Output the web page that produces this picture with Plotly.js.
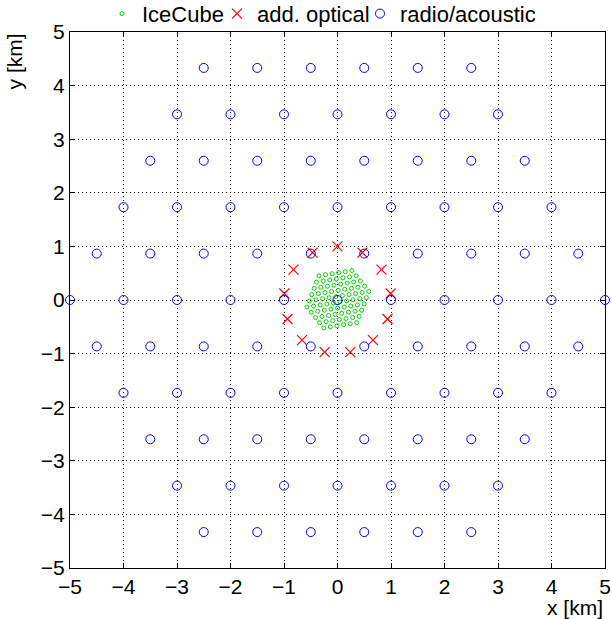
<!DOCTYPE html>
<html>
<head>
<meta charset="utf-8">
<script src="https://cdn.plot.ly/plotly-3.0.1.min.js"></script>
<style>html,body{margin:0;padding:0;background:#fff;}#chart{width:612px;height:619px;}</style>
</head>
<body>
<div id="chart"></div>
<script>
// IceCube strings (km)
var iceX = [
 -0.256,-0.133,-0.009,0.114,0.238,0.361,
 -0.335,-0.211,-0.088,0.036,0.159,0.283,0.406,
 -0.413,-0.290,-0.167,-0.043,0.080,0.204,0.327,0.451,
 -0.492,-0.369,-0.245,-0.122,0.002,0.125,0.249,0.372,0.496,
 -0.571,-0.447,-0.324,-0.200,-0.077,0.047,0.170,0.293,0.417,0.540,
 -0.526,-0.403,-0.279,-0.156,-0.032,0.091,0.215,0.338,0.462,0.585,
 -0.481,-0.358,-0.234,-0.111,0.013,0.136,0.260,0.383,0.507,
 -0.436,-0.313,-0.189,-0.066,0.057,0.181,0.304,0.428,
 -0.392,-0.268,-0.145,-0.021,0.102,0.226,0.349,
 -0.347,-0.223,-0.100,0.024,0.147,0.271
];
var iceY = [
 -0.521,-0.502,-0.482,-0.462,-0.443,-0.423,
 -0.424,-0.404,-0.385,-0.365,-0.346,-0.326,-0.307,
 -0.327,-0.307,-0.288,-0.268,-0.249,-0.229,-0.209,-0.190,
 -0.230,-0.210,-0.191,-0.171,-0.151,-0.132,-0.112,-0.093,-0.073,
 -0.132,-0.113,-0.093,-0.074,-0.054,-0.035,-0.015,0.004,0.024,0.043,
 -0.016,0.004,0.023,0.043,0.062,0.082,0.102,0.121,0.141,0.160,
 0.101,0.120,0.140,0.160,0.179,0.199,0.218,0.238,0.257,
 0.218,0.237,0.257,0.276,0.296,0.315,0.335,0.354,
 0.334,0.354,0.373,0.393,0.413,0.432,0.452,
 0.451,0.471,0.490,0.510,0.529,0.549
];
// additional optical strings (km)
var optX = [0,-0.465,-0.823,-0.993,-0.935,-0.663,-0.239,0.239,0.663,0.935,0.993,0.823,0.465];
var optY = [1,0.885,0.568,0.121,-0.355,-0.749,-0.971,-0.971,-0.749,-0.355,0.121,0.568,0.885];
// radio / acoustic strings (km)
var radioX = [
 -2.5,-1.5,-0.5,0.5,1.5,2.5,
 -3,-2,-1,0,1,2,3,
 -3.5,-2.5,-1.5,-0.5,0.5,1.5,2.5,3.5,
 -4,-3,-2,-1,0,1,2,3,4,
 -4.5,-3.5,-2.5,-1.5,-0.5,0.5,1.5,2.5,3.5,4.5,
 -5,-4,-3,-2,-1,0,1,2,3,4,5,
 -4.5,-3.5,-2.5,-1.5,-0.5,0.5,1.5,2.5,3.5,4.5,
 -4,-3,-2,-1,0,1,2,3,4,
 -3.5,-2.5,-1.5,-0.5,0.5,1.5,2.5,3.5,
 -3,-2,-1,0,1,2,3,
 -2.5,-1.5,-0.5,0.5,1.5,2.5
];
var radioY = [
 4.330,4.330,4.330,4.330,4.330,4.330,
 3.464,3.464,3.464,3.464,3.464,3.464,3.464,
 2.598,2.598,2.598,2.598,2.598,2.598,2.598,2.598,
 1.732,1.732,1.732,1.732,1.732,1.732,1.732,1.732,1.732,
 0.866,0.866,0.866,0.866,0.866,0.866,0.866,0.866,0.866,0.866,
 0,0,0,0,0,0,0,0,0,0,0,
 -0.866,-0.866,-0.866,-0.866,-0.866,-0.866,-0.866,-0.866,-0.866,-0.866,
 -1.732,-1.732,-1.732,-1.732,-1.732,-1.732,-1.732,-1.732,-1.732,
 -2.598,-2.598,-2.598,-2.598,-2.598,-2.598,-2.598,-2.598,
 -3.464,-3.464,-3.464,-3.464,-3.464,-3.464,-3.464,
 -4.330,-4.330,-4.330,-4.330,-4.330,-4.330
];
var tickVals = [-5,-4,-3,-2,-1,0,1,2,3,4,5];
var seriesNames = ["IceCube","add. optical","radio/acoustic"];

var FONT = "Liberation Sans, Arial, Helvetica, sans-serif";

var traces = [
 {x: iceX, y: iceY, name: seriesNames[0], type: "scatter", mode: "markers", cliponaxis: false, legend: "legend",
  marker: {symbol: "circle-open", size: 4, color: "#00d000", line: {width: 1, color: "#00d000"}}},
 {x: optX, y: optY, name: seriesNames[1], type: "scatter", mode: "markers", cliponaxis: false, legend: "legend2",
  marker: {symbol: "x-thin-open", size: 10, color: "#ff0000", line: {width: 1.2, color: "#ff0000"}}},
 {x: radioX, y: radioY, name: seriesNames[2], type: "scatter", mode: "markers", cliponaxis: false, legend: "legend3",
  marker: {symbol: "circle-open", size: 9, color: "#0000ff", line: {width: 1, color: "#0000ff"}}}
];

function axis() {
  return {
    range: [-5, 5], tickmode: "array", tickvals: tickVals,
    ticks: "inside", ticklen: 5, tickwidth: 1, tickcolor: "#000",
    showline: true, linecolor: "#000", linewidth: 1, mirror: "ticks",
    showgrid: true, gridcolor: "#000", gridwidth: 1, griddash: "1px,3px",
    zeroline: false, tickfont: {family: FONT, size: 21, color: "#000"}
  };
}

function leg(px) {
  return {orientation: "h", x: (px - 70) / 535, xanchor: "left", y: 1.034, yanchor: "middle",
          font: {family: FONT, size: 22, color: "#000"}, bgcolor: "rgba(0,0,0,0)", itemwidth: 30};
}

var layout = {
  width: 612, height: 619, autosize: false,
  margin: {l: 70, r: 7, t: 32, b: 51, autoexpand: false},
  paper_bgcolor: "#fff", plot_bgcolor: "#fff",
  font: {family: FONT, color: "#000"},
  xaxis: axis(), yaxis: axis(),
  showlegend: true,
  legend: leg(102), legend2: leg(217), legend3: leg(360),
  annotations: [
    {text: "x [km]", xref: "paper", yref: "paper", x: 1.0, y: -0.073, xanchor: "right", yanchor: "middle",
     showarrow: false, font: {family: FONT, size: 21, color: "#000"}},
    {text: "y [km]", xref: "paper", yref: "paper", x: -0.103, y: 0.945, xanchor: "center", yanchor: "middle",
     textangle: -90, showarrow: false, font: {family: FONT, size: 21, color: "#000"}}
  ]
};

Plotly.newPlot("chart", traces, layout, {displayModeBar: false, staticPlot: true});
</script>
</body>
</html>
